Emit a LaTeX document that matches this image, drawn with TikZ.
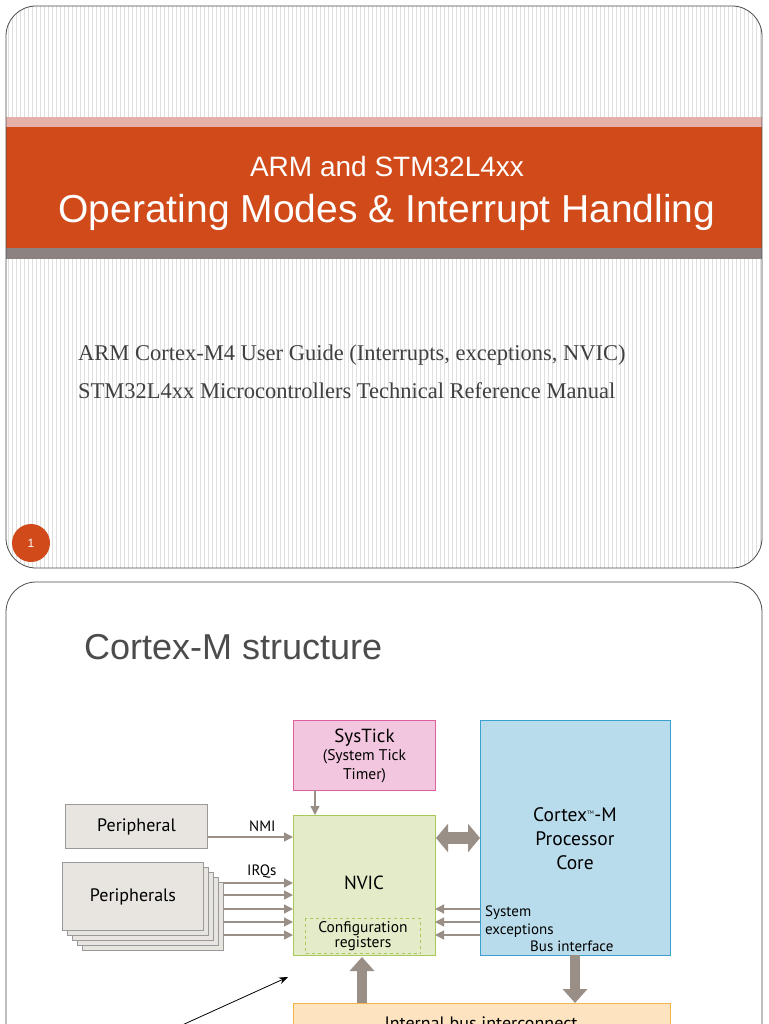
\documentclass[tikz,border=0pt]{standalone}
\usepackage{fontspec}
\setmainfont{Liberation Serif}
\newfontfamily\titlef{Liberation Sans}
\newfontfamily\diagf{PT Sans}
\usetikzlibrary{arrows.meta}
\definecolor{orng}{HTML}{D04A1A}
\definecolor{pinkb}{HTML}{E6B0AA}
\definecolor{grayb}{HTML}{8C8282}
\definecolor{arr}{HTML}{9A8F87}
\tikzset{
  blk/.style={line width=1pt, inner sep=0pt, font=\diagf\fontsize{18}{19}\selectfont, align=center},
  thin/.style={draw=arr, line width=1.3pt, -{Triangle[length=9pt,width=9pt]}},
  fat/.style={draw=arr, line width=10pt, -{Triangle[length=14pt,width=24pt]}},
  lbl/.style={font=\diagf\fontsize{15}{16}\selectfont, inner sep=0pt, anchor=west}
}
\begin{document}
\begin{tikzpicture}[x=1pt,y=-1pt]
\useasboundingbox (0,0) rectangle (768,1024);
\fill[white] (0,0) rectangle (768,1024);
% slide 1
\begin{scope}
\clip[rounded corners=30pt] (6,6) rectangle (762,568);
\fill[white] (6,6) rectangle (762,568);
\foreach \i in {8,12,...,760} \draw[black!12, line width=0.6pt] (\i,6) -- (\i,568);
\fill[pinkb] (6,117) rectangle (762,127);
\fill[orng] (6,127) rectangle (762,248);
\fill[grayb] (6,248) rectangle (762,259);
\end{scope}
\draw[black!70, line width=0.8pt, rounded corners=30pt] (6,6) rectangle (762,568);
\node (t1) at (387,166) {\color{white}\titlef\fontsize{28}{30}\selectfont ARM and STM32L4xx};
\node (t2) at (387,212) {\color{white}\titlef\fontsize{39}{42}\selectfont Operating Modes \& Interrupt Handling};
\node[anchor=west, inner sep=0pt, color=black!75, align=left, font=\fontsize{22.5}{38}\selectfont] (refs) at (78,372)
 {ARM Cortex-M4 User Guide (Interrupts, exceptions, NVIC)\\STM32L4xx Microcontrollers Technical Reference Manual};
\node[circle, fill=orng, minimum size=38pt, inner sep=0pt, font=\titlef\fontsize{12}{12}\selectfont, text=white] (pg) at (31,543) {1};
% slide 2
\draw[black!70, line width=0.8pt, fill=white, rounded corners=30pt] (6,1040) -- (6,582) -- (762,582) -- (762,1040);
\node[anchor=west, inner sep=0pt, text=black!70, font=\titlef\fontsize{36}{38}\selectfont] (t3) at (84,647) {Cortex-M structure};
% boxes
\node[blk, draw={rgb,255:red,224;green,96;blue,159}, fill={rgb,255:red,242;green,198;blue,222}, minimum width=142pt, minimum height=70pt, anchor=north west] (sys) at (293,720)
 {\fontsize{19}{19}\selectfont SysTick\\[-1pt]\fontsize{15.5}{16.5}\selectfont (System Tick\\ \fontsize{15.5}{16.5}\selectfont Timer)};
\node[blk, draw={rgb,255:red,58;green,160;blue,208}, fill={rgb,255:red,185;green,220;blue,236}, minimum width=190pt, minimum height=235pt, anchor=north west] (cpu) at (480,720) {};
\node[blk, font=\diagf\fontsize{19.5}{24}\selectfont] (cput) at (575,839) {Cortex\textsuperscript{\tiny TM}-M\\Processor\\Core};
\node[blk, draw={rgb,255:red,168;green,200;blue,90}, fill={rgb,255:red,227;green,235;blue,200}, minimum width=142pt, minimum height=140pt, anchor=north west] (nvic) at (293,815) {};
\node[blk, font=\diagf\fontsize{19}{19}\selectfont] (nvict) at (364,883) {NVIC};
\node[blk, draw={rgb,255:red,168;green,200;blue,90}, dashed, minimum width=115pt, minimum height=35pt, anchor=north west, font=\diagf\fontsize{15.5}{15}\selectfont] (cfg) at (305,918) {Configuration\\registers};
\node[blk, draw=black!40, fill={rgb,255:red,232;green,228;blue,224}, minimum width=142pt, minimum height=44pt, anchor=north west] (per) at (65,804) {Peripheral};
\foreach \o in {4,3,2,1} \draw[black!40, line width=1pt, fill={rgb,255:red,232;green,228;blue,224}] (62+5*\o,862+5*\o) rectangle (203+5*\o,930+5*\o);
\node[blk, draw=black!40, fill={rgb,255:red,232;green,228;blue,224}, minimum width=141pt, minimum height=68pt, anchor=north west] (pers) at (62,862) {Peripherals};
\node[blk, draw={rgb,255:red,243;green,181;blue,74}, fill={rgb,255:red,253;green,227;blue,192}, minimum width=377pt, minimum height=40pt, anchor=north west] (bus) at (293,1003) {};
\node[blk, anchor=north] (bust) at (481,1016) {Internal bus interconnect};
% connectors
\coordinate (n0) at (293,837);
\draw[thin] (per.east |- n0) -- (n0);
\node[lbl] (nmi) at (249,826) {NMI};
\node[lbl] (irq) at (247,872) {IRQs};
\foreach \y in {883,895,909,922,935} \draw[thin] (223,\y) -- (293,\y);
\draw[thin] (315,790) -- (315,815);
\draw[draw=arr, line width=12pt, {Triangle[length=12pt,width=28pt]}-{Triangle[length=12pt,width=28pt]}] (436,838) -- (480,838);
\foreach \y in {909,922,935} \draw[thin] (480,\y) -- (435,\y);
\node[lbl] (se1) at (485,913) {System};
\node[lbl] (se2) at (485,931) {exceptions};
\node[lbl] (bif) at (530,946) {Bus interface};
\draw[fat] (362,1003) -- (362,957);
\draw[fat] (575,955) -- (575,1003);
\coordinate (ae) at (180,1026);
\draw[black, line width=0.8pt, -{Stealth[length=9pt]}] (ae) -- (288,977);
\end{tikzpicture}
\end{document}
